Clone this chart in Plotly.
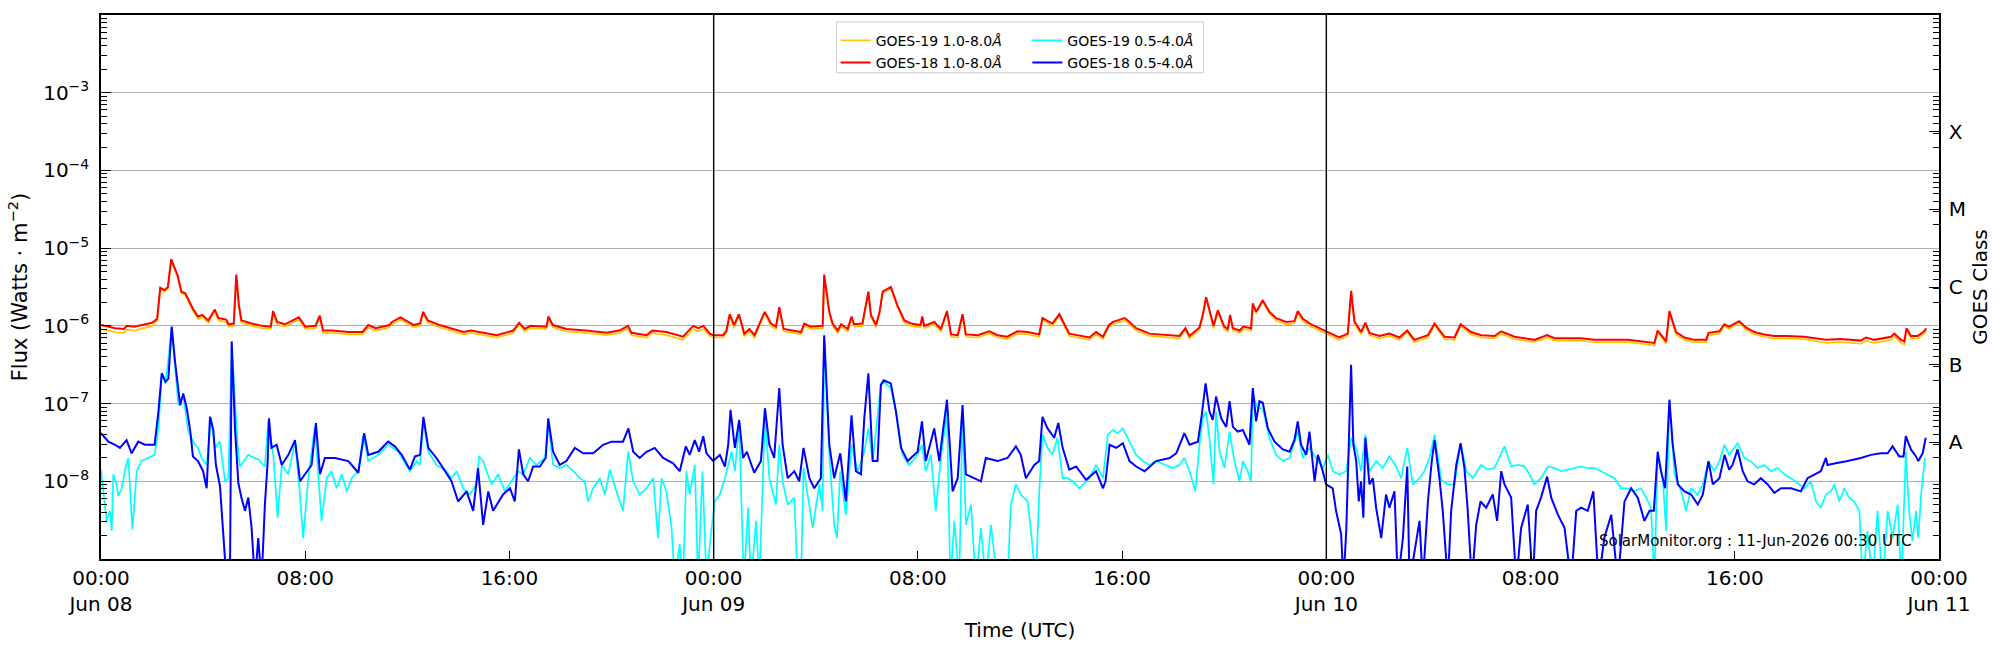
import pandas as pd
import plotly.graph_objects as go

# ---------------- data (hours since 2026-06-08 00:00 UTC, log10 flux in W/m^2) ----------------
t_long = [
    0.0, 0.55, 0.9, 1.0, 1.3, 1.7, 2.0, 2.2, 2.32, 2.5,
    2.62, 2.75, 3.0, 3.15, 3.3, 3.6, 3.8, 3.97, 4.2, 4.46,
    4.6, 4.9, 5.0, 5.2, 5.3, 5.4, 5.5, 5.9, 6.3, 6.65,
    6.74, 6.9, 7.2, 7.75, 8.0, 8.4, 8.57, 8.7, 9.06, 9.7,
    10.24, 10.47, 10.76, 11.3, 11.4, 11.73, 12.25, 12.5, 12.62, 12.8,
    13.27, 13.8, 14.2, 14.5, 14.84, 15.5, 16.15, 16.38, 16.6, 16.82,
    17.45, 17.53, 17.7, 18.23, 19.0, 19.8, 20.3, 20.65, 20.78, 21.37,
    21.6, 22.15, 22.8, 22.93, 23.2, 23.4, 23.6, 23.85, 23.98, 24.37,
    24.5, 24.63, 24.8, 24.99, 25.2, 25.4, 25.6, 26.0, 26.25, 26.44,
    26.57, 26.74, 27.16, 27.42, 27.55, 27.8, 28.27, 28.33, 28.53, 28.66,
    28.86, 28.99, 29.25, 29.4, 29.5, 29.83, 29.9, 30.06, 30.16, 30.36,
    30.5, 30.62, 30.94, 31.2, 31.47, 31.73, 32.1, 32.17, 32.25, 32.64,
    32.9, 33.14, 33.3, 33.56, 33.75, 33.88, 34.34, 34.8, 35.12, 35.5,
    35.9, 36.3, 36.75, 36.88, 37.27, 37.54, 37.93, 38.2, 38.72, 38.98,
    39.25, 39.48, 39.64, 39.83, 40.1, 40.29, 40.55, 41.07, 41.6, 42.25,
    42.48, 42.64, 43.03, 43.16, 43.29, 43.49, 43.58, 43.75, 44.0, 44.14,
    44.23, 44.34, 44.6, 44.75, 45.05, 45.12, 45.25, 45.51, 45.77, 46.03,
    46.43, 46.75, 46.88, 47.08, 47.4, 47.6, 48.0, 48.5, 48.84, 48.97,
    49.1, 49.36, 49.53, 49.69, 50.08, 50.47, 50.86, 51.17, 51.45, 51.98,
    52.24, 52.63, 53.02, 53.15, 53.26, 53.67, 54.06, 54.59, 54.85, 55.37,
    56.15, 56.65, 56.94, 57.98, 58.5, 59.81, 60.85, 60.98, 61.18, 61.31,
    61.44, 61.7, 62.03, 62.42, 62.88, 62.97, 63.4, 63.59, 63.78, 64.17,
    64.44, 64.76, 65.15, 65.55, 66.07, 66.72, 67.57, 68.16, 68.94, 69.14,
    69.46, 70.12, 70.25, 70.51, 70.64, 70.73, 70.9, 71.16, 71.42, 71.5,
]
g18_long = [
    -5.99, -6.03, -6.04, -6.00, -6.01, -5.98, -5.96, -5.91, -5.51, -5.54,
    -5.50, -5.14, -5.35, -5.56, -5.58, -5.78, -5.88, -5.86, -5.93, -5.79,
    -5.90, -5.92, -5.98, -5.97, -5.34, -5.73, -5.93, -5.97, -6.00, -6.01,
    -5.81, -5.95, -5.98, -5.89, -6.01, -6.00, -5.87, -6.06, -6.06, -6.08,
    -6.08, -5.99, -6.03, -5.99, -5.95, -5.89, -5.99, -5.97, -5.82, -5.93,
    -5.99, -6.04, -6.08, -6.06, -6.08, -6.12, -6.06, -5.96, -6.04, -6.00,
    -6.01, -5.88, -5.99, -6.04, -6.06, -6.09, -6.06, -6.00, -6.09, -6.12,
    -6.06, -6.08, -6.14, -6.09, -6.00, -6.03, -6.00, -6.10, -6.12, -6.12,
    -6.06, -5.85, -5.99, -5.85, -6.10, -6.04, -6.12, -5.82, -5.97, -6.01,
    -5.76, -6.04, -6.06, -6.08, -5.97, -6.01, -6.00, -5.34, -5.82, -5.97,
    -6.06, -5.98, -6.04, -5.88, -5.98, -5.97, -5.84, -5.56, -5.86, -5.99,
    -5.82, -5.56, -5.50, -5.74, -5.93, -5.97, -5.99, -5.88, -6.00, -5.95,
    -6.04, -5.81, -6.11, -6.12, -5.85, -6.11, -6.12, -6.07, -6.12, -6.14,
    -6.07, -6.08, -6.11, -5.90, -5.97, -5.85, -6.10, -6.12, -6.15, -6.08,
    -6.14, -5.99, -5.95, -5.93, -5.90, -5.95, -6.03, -6.10, -6.11, -6.13,
    -6.03, -6.13, -6.02, -5.86, -5.63, -5.91, -6.00, -5.80, -6.01, -6.04,
    -5.86, -6.03, -6.06, -6.01, -6.03, -5.71, -5.82, -5.67, -5.82, -5.90,
    -5.95, -5.94, -5.81, -5.91, -5.98, -6.01, -6.07, -6.15, -6.10, -5.55,
    -5.94, -6.08, -5.96, -6.09, -6.13, -6.10, -6.15, -6.06, -6.18, -6.12,
    -5.97, -6.14, -6.15, -6.06, -5.98, -6.08, -6.12, -6.13, -6.07, -6.14,
    -6.18, -6.12, -6.16, -6.16, -6.18, -6.18, -6.22, -6.06, -6.14, -6.20,
    -5.81, -6.08, -6.15, -6.18, -6.18, -6.09, -6.07, -5.98, -6.01, -5.94,
    -6.02, -6.08, -6.11, -6.13, -6.13, -6.14, -6.18, -6.17, -6.19, -6.15,
    -6.18, -6.14, -6.10, -6.18, -6.20, -6.03, -6.13, -6.13, -6.07, -6.03,
]
g19_long = [
    -6.04, -6.08, -6.09, -6.05, -6.06, -6.03, -6.00, -5.94, -5.53, -5.56,
    -5.52, -5.16, -5.37, -5.58, -5.60, -5.81, -5.91, -5.89, -5.96, -5.81,
    -5.93, -5.95, -6.01, -6.00, -5.36, -5.75, -5.96, -6.00, -6.03, -6.04,
    -5.83, -5.98, -6.01, -5.92, -6.04, -6.03, -5.89, -6.09, -6.09, -6.11,
    -6.11, -6.02, -6.06, -6.02, -5.98, -5.92, -6.02, -6.00, -5.84, -5.96,
    -6.02, -6.07, -6.11, -6.09, -6.11, -6.15, -6.09, -5.98, -6.07, -6.03,
    -6.04, -5.90, -6.02, -6.07, -6.09, -6.12, -6.09, -6.03, -6.12, -6.15,
    -6.09, -6.12, -6.18, -6.13, -6.04, -6.07, -6.04, -6.13, -6.15, -6.15,
    -6.09, -5.87, -6.02, -5.87, -6.13, -6.07, -6.15, -5.84, -6.00, -6.04,
    -5.78, -6.07, -6.09, -6.11, -6.00, -6.04, -6.03, -5.36, -5.84, -6.00,
    -6.09, -6.01, -6.07, -5.90, -6.01, -6.00, -5.86, -5.58, -5.88, -6.02,
    -5.84, -5.58, -5.52, -5.76, -5.96, -6.00, -6.02, -5.90, -6.03, -5.98,
    -6.07, -5.83, -6.14, -6.15, -5.87, -6.14, -6.15, -6.10, -6.15, -6.17,
    -6.10, -6.11, -6.14, -5.92, -6.00, -5.87, -6.13, -6.15, -6.18, -6.11,
    -6.17, -6.02, -5.98, -5.96, -5.93, -5.98, -6.06, -6.13, -6.14, -6.16,
    -6.05, -6.16, -6.05, -5.88, -5.65, -5.93, -6.03, -5.82, -6.04, -6.07,
    -5.88, -6.06, -6.09, -6.04, -6.06, -5.73, -5.84, -5.69, -5.84, -5.93,
    -5.98, -5.97, -5.83, -5.94, -6.01, -6.04, -6.10, -6.18, -6.13, -5.57,
    -5.97, -6.11, -5.98, -6.12, -6.16, -6.13, -6.18, -6.08, -6.21, -6.15,
    -5.99, -6.17, -6.18, -6.08, -6.00, -6.11, -6.15, -6.16, -6.10, -6.17,
    -6.21, -6.15, -6.19, -6.19, -6.21, -6.21, -6.25, -6.08, -6.17, -6.23,
    -5.83, -6.11, -6.18, -6.21, -6.21, -6.12, -6.10, -6.00, -6.04, -5.96,
    -6.05, -6.11, -6.14, -6.16, -6.16, -6.17, -6.22, -6.21, -6.23, -6.19,
    -6.22, -6.18, -6.13, -6.22, -6.24, -6.05, -6.16, -6.16, -6.10, -6.06,
]

t_g18_short = [
    0.0, 0.29, 0.55, 0.74, 1.0, 1.2, 1.46, 1.72, 2.1, 2.25,
    2.38, 2.53, 2.64, 2.77, 2.9, 3.1, 3.22, 3.36, 3.5, 3.6,
    3.8, 4.0, 4.14, 4.27, 4.4, 4.5, 4.66, 4.8, 4.92, 5.05,
    5.12, 5.25, 5.38, 5.5, 5.64, 5.77, 5.9, 6.03, 6.16, 6.29,
    6.42, 6.53, 6.58, 6.68, 6.88, 7.08, 7.34, 7.6, 7.8, 7.99,
    8.25, 8.42, 8.58, 8.77, 9.16, 9.69, 10.08, 10.31, 10.47, 10.86,
    11.25, 11.51, 11.78, 12.1, 12.3, 12.5, 12.63, 12.82, 13.14, 13.4,
    13.73, 13.99, 14.32, 14.58, 14.77, 14.97, 15.17, 15.36, 15.75, 16.02,
    16.21, 16.37, 16.54, 16.73, 16.93, 17.19, 17.42, 17.52, 17.71, 17.97,
    18.23, 18.56, 18.89, 19.28, 19.67, 20.0, 20.45, 20.66, 20.85, 21.1,
    21.37, 21.69, 22.02, 22.41, 22.67, 22.91, 23.06, 23.26, 23.43, 23.59,
    23.72, 23.98, 24.24, 24.44, 24.57, 24.66, 24.83, 25.0, 25.15, 25.3,
    25.59, 25.85, 26.01, 26.18, 26.37, 26.57, 26.7, 26.9, 27.16, 27.35,
    27.52, 27.75, 27.94, 28.2, 28.33, 28.53, 28.72, 28.96, 29.18, 29.4,
    29.57, 29.77, 29.9, 30.06, 30.23, 30.42, 30.55, 30.66, 30.94, 31.14,
    31.34, 31.6, 31.99, 32.16, 32.31, 32.64, 32.84, 32.97, 33.14, 33.36,
    33.56, 33.75, 33.88, 34.2, 34.47, 34.66, 35.12, 35.51, 35.84, 36.03,
    36.23, 36.56, 36.75, 36.88, 37.08, 37.34, 37.5, 37.67, 37.93, 38.2,
    38.59, 38.98, 39.25, 39.35, 39.51, 39.77, 40.03, 40.29, 40.55, 40.88,
    41.33, 41.86, 42.12, 42.44, 42.64, 42.97, 43.12, 43.27, 43.42, 43.55,
    43.68, 43.88, 44.08, 44.21, 44.34, 44.53, 44.73, 44.99, 45.12, 45.25,
    45.38, 45.51, 45.71, 45.97, 46.3, 46.56, 46.75, 46.88, 47.01, 47.21,
    47.34, 47.54, 47.67, 47.86, 47.99, 48.25, 48.38, 48.58, 48.67, 48.78,
    48.88, 48.97, 49.06, 49.17, 49.27, 49.36, 49.45, 49.53, 49.69, 49.82,
    49.95, 50.15, 50.34, 50.47, 50.67, 50.8, 51.0, 51.17, 51.26, 51.45,
    51.65, 51.78, 51.98, 52.13, 52.24, 52.43, 52.56, 52.76, 52.89, 53.09,
    53.26, 53.41, 53.54, 53.7, 53.87, 54.04, 54.26, 54.52, 54.69, 54.85,
    54.98, 55.24, 55.44, 55.63, 55.89, 56.09, 56.22, 56.41, 56.65, 56.81,
    57.07, 57.33, 57.59, 57.79, 57.98, 58.24, 58.46, 58.66, 58.89, 59.16,
    59.42, 59.68, 59.94, 60.2, 60.46, 60.66, 60.83, 60.98, 61.11, 61.27,
    61.44, 61.57, 61.77, 62.03, 62.29, 62.55, 62.75, 62.97, 63.14, 63.4,
    63.6, 63.78, 63.91, 64.11, 64.31, 64.5, 64.76, 65.02, 65.29, 65.55,
    65.81, 66.2, 66.59, 66.85, 67.11, 67.37, 67.57, 67.63, 67.9, 68.42,
    68.94, 69.33, 69.72, 69.99, 70.18, 70.44, 70.61, 70.7, 70.9, 71.1,
    71.19, 71.36, 71.48,
]
g18_short = [
    -7.38, -7.49, -7.53, -7.57, -7.47, -7.64, -7.49, -7.53, -7.53, -7.10,
    -6.61, -6.72, -6.68, -6.01, -6.46, -7.02, -6.87, -7.06, -7.36, -7.68,
    -7.74, -7.87, -8.09, -7.17, -7.34, -7.79, -8.06, -8.77, -9.30, -9.30,
    -6.20, -7.32, -8.02, -8.21, -8.38, -8.21, -8.60, -9.30, -8.73, -9.30,
    -8.30, -7.74, -7.19, -7.57, -7.53, -7.79, -7.66, -7.47, -8.00, -7.91,
    -7.79, -7.25, -7.91, -7.70, -7.70, -7.74, -7.89, -7.38, -7.66, -7.62,
    -7.49, -7.55, -7.66, -7.85, -7.68, -7.66, -7.17, -7.57, -7.70, -7.83,
    -8.00, -8.26, -8.13, -8.38, -7.83, -8.56, -8.13, -8.38, -8.17, -8.09,
    -8.26, -7.59, -7.91, -8.00, -7.81, -7.81, -7.70, -7.19, -7.62, -7.79,
    -7.74, -7.57, -7.64, -7.64, -7.53, -7.49, -7.49, -7.32, -7.62, -7.70,
    -7.62, -7.57, -7.70, -7.77, -7.87, -7.55, -7.66, -7.47, -7.62, -7.42,
    -7.64, -7.74, -7.66, -7.81, -7.53, -7.08, -7.57, -7.21, -7.70, -7.62,
    -7.89, -7.74, -7.06, -7.53, -7.70, -6.80, -7.53, -7.96, -7.87, -8.00,
    -7.57, -7.96, -8.09, -7.96, -6.12, -7.53, -7.96, -7.64, -8.26, -7.15,
    -7.87, -7.91, -7.19, -6.61, -7.74, -7.74, -6.76, -6.70, -6.74, -7.10,
    -7.57, -7.74, -7.62, -7.23, -7.74, -7.32, -7.74, -7.38, -6.95, -8.13,
    -7.96, -7.02, -7.91, -7.96, -8.00, -7.70, -7.74, -7.70, -7.55, -7.66,
    -7.96, -7.79, -7.74, -7.17, -7.32, -7.44, -7.25, -7.57, -7.85, -7.81,
    -7.98, -7.87, -8.09, -8.00, -7.53, -7.57, -7.51, -7.74, -7.81, -7.87,
    -7.74, -7.70, -7.64, -7.38, -7.53, -7.49, -7.15, -6.74, -7.10, -7.21,
    -6.91, -7.19, -7.30, -6.97, -7.30, -7.36, -7.34, -7.53, -6.80, -7.23,
    -6.97, -6.99, -7.32, -7.49, -7.59, -7.62, -7.47, -7.23, -7.53, -7.66,
    -7.36, -8.00, -7.66, -7.87, -8.04, -8.09, -8.38, -8.68, -9.30, -8.64,
    -7.66, -6.50, -7.53, -7.74, -8.26, -8.00, -8.47, -7.44, -8.04, -7.96,
    -8.34, -8.73, -8.17, -8.34, -8.13, -9.30, -8.73, -7.81, -9.30, -8.90,
    -8.51, -9.30, -8.26, -7.74, -7.47, -7.96, -8.38, -9.30, -8.38, -7.79,
    -7.51, -7.83, -8.38, -9.30, -8.56, -8.26, -8.34, -8.17, -8.51, -7.87,
    -8.04, -8.21, -9.30, -8.60, -8.30, -9.30, -8.38, -8.21, -7.94, -8.21,
    -8.43, -8.60, -9.30, -8.38, -8.34, -8.38, -8.13, -9.30, -8.73, -8.43,
    -9.30, -8.26, -8.09, -8.21, -8.51, -8.38, -8.38, -7.62, -7.87, -8.09,
    -6.95, -7.53, -8.04, -8.13, -8.17, -8.30, -8.17, -7.74, -8.04, -7.96,
    -7.66, -7.85, -7.79, -7.59, -7.87, -8.00, -8.04, -7.96, -8.04, -8.15,
    -8.09, -8.09, -8.13, -7.96, -7.91, -7.87, -7.70, -7.79, -7.77, -7.74,
    -7.70, -7.66, -7.64, -7.64, -7.55, -7.68, -7.68, -7.42, -7.59, -7.68,
    -7.74, -7.64, -7.44,
]

t_g19_short = [
    0.0, 0.09, 0.22, 0.35, 0.42, 0.48, 0.61, 0.68, 0.81, 0.97,
    1.07, 1.23, 1.4, 1.59, 1.85, 2.1, 2.25, 2.38, 2.53, 2.77,
    3.03, 3.22, 3.42, 3.55, 3.68, 3.8, 3.94, 4.14, 4.31, 4.46,
    4.66, 4.86, 4.99, 5.12, 5.35, 5.44, 5.77, 6.16, 6.42, 6.55,
    6.75, 6.92, 7.08, 7.34, 7.6, 7.76, 7.92, 8.12, 8.38, 8.51,
    8.64, 8.84, 9.03, 9.23, 9.43, 9.63, 9.82, 10.08, 10.27, 10.47,
    10.86, 11.25, 11.65, 12.1, 12.36, 12.49, 12.63, 12.82, 13.14, 13.53,
    13.73, 13.93, 14.19, 14.45, 14.71, 14.81, 14.97, 15.1, 15.3, 15.56,
    15.82, 16.08, 16.34, 16.54, 16.8, 17.06, 17.39, 17.52, 17.71, 17.97,
    18.23, 18.5, 18.76, 18.95, 19.08, 19.28, 19.54, 19.74, 19.93, 20.19,
    20.45, 20.65, 20.85, 21.1, 21.37, 21.63, 21.82, 21.96, 22.15, 22.35,
    22.48, 22.67, 22.8, 22.93, 23.06, 23.26, 23.39, 23.56, 23.72, 23.85,
    24.04, 24.24, 24.44, 24.57, 24.7, 24.83, 25.0, 25.18, 25.35, 25.46,
    25.66, 25.79, 26.01, 26.18, 26.44, 26.57, 26.7, 26.9, 27.16, 27.29,
    27.42, 27.52, 27.75, 27.88, 28.14, 28.27, 28.33, 28.53, 28.72, 28.83,
    28.96, 29.18, 29.4, 29.64, 29.9, 30.06, 30.23, 30.55, 30.66, 30.94,
    31.14, 31.4, 31.66, 31.99, 32.16, 32.31, 32.51, 32.7, 32.9, 33.14,
    33.27, 33.43, 33.62, 33.75, 33.88, 34.08, 34.27, 34.47, 34.66, 34.86,
    35.12, 35.51, 35.64, 35.84, 36.03, 36.3, 36.43, 36.62, 36.75, 36.88,
    37.08, 37.27, 37.47, 37.67, 37.86, 38.07, 38.33, 38.72, 38.98, 39.25,
    39.44, 39.64, 39.83, 40.03, 40.29, 40.55, 40.81, 41.07, 41.33, 41.73,
    41.99, 42.25, 42.44, 42.64, 42.87, 43.03, 43.16, 43.29, 43.42, 43.58,
    43.68, 43.82, 44.01, 44.21, 44.4, 44.6, 44.73, 44.92, 45.05, 45.12,
    45.32, 45.51, 45.77, 46.03, 46.3, 46.56, 46.88, 47.08, 47.34, 47.6,
    47.86, 48.06, 48.25, 48.51, 48.78, 48.97, 49.17, 49.36, 49.53, 49.69,
    49.95, 50.21, 50.47, 50.73, 50.93, 51.17, 51.39, 51.65, 51.84, 52.04,
    52.24, 52.5, 52.76, 53.02, 53.26, 53.48, 53.74, 54.06, 54.33, 54.59,
    54.78, 54.98, 55.24, 55.5, 55.76, 55.96, 56.15, 56.41, 56.68, 56.94,
    57.2, 57.46, 57.72, 57.98, 58.24, 58.5, 58.76, 59.02, 59.29, 59.55,
    59.81, 60.07, 60.33, 60.53, 60.72, 60.85, 60.98, 61.18, 61.31, 61.44,
    61.64, 61.9, 62.09, 62.29, 62.55, 62.75, 62.97, 63.2, 63.4, 63.59,
    63.78, 64.11, 64.37, 64.63, 64.89, 65.15, 65.42, 65.68, 65.94, 66.2,
    66.46, 66.72, 66.98, 67.18, 67.37, 67.57, 67.77, 67.9, 68.09, 68.29,
    68.48, 68.68, 68.88, 69.01, 69.2, 69.4, 69.59, 69.79, 69.99, 70.18,
    70.38, 70.53, 70.7, 70.83, 70.96, 71.1, 71.19, 71.3, 71.45,
]
g19_short = [
    -7.85, -8.09, -8.51, -8.38, -8.64, -7.91, -8.04, -8.19, -8.09, -7.81,
    -7.70, -8.62, -7.87, -7.74, -7.70, -7.66, -7.32, -6.63, -6.74, -6.03,
    -7.02, -6.89, -7.36, -7.44, -7.53, -7.57, -7.70, -7.79, -7.19, -7.57,
    -7.49, -8.00, -7.96, -6.25, -7.53, -7.81, -7.66, -7.72, -7.81, -7.23,
    -7.66, -8.47, -7.79, -7.91, -7.49, -8.04, -8.73, -7.96, -7.29, -7.91,
    -8.51, -7.96, -7.87, -8.09, -7.91, -8.13, -7.96, -7.87, -7.40, -7.74,
    -7.66, -7.53, -7.62, -7.87, -7.74, -7.79, -7.23, -7.62, -7.79, -7.87,
    -7.96, -7.87, -8.09, -8.17, -8.04, -7.68, -7.74, -7.87, -8.04, -7.91,
    -8.13, -8.00, -7.87, -7.91, -7.70, -7.79, -7.70, -7.27, -7.79, -7.83,
    -7.79, -7.87, -7.96, -8.00, -8.26, -8.09, -7.96, -8.17, -7.85, -8.13,
    -8.38, -7.62, -8.00, -8.17, -8.09, -7.96, -8.73, -7.96, -8.13, -8.60,
    -9.30, -8.81, -9.30, -7.87, -8.17, -7.79, -9.30, -7.87, -9.30, -8.81,
    -8.26, -8.17, -7.96, -7.79, -7.62, -7.87, -7.27, -9.30, -8.34, -9.30,
    -8.51, -9.30, -7.15, -7.96, -8.30, -7.53, -8.00, -8.30, -8.21, -9.30,
    -9.30, -7.83, -8.30, -8.60, -8.04, -8.38, -6.16, -7.66, -8.56, -8.73,
    -7.87, -8.43, -7.53, -7.87, -7.62, -7.32, -7.74, -6.76, -6.72, -6.80,
    -7.10, -7.66, -7.79, -7.66, -7.53, -7.87, -7.66, -8.38, -7.70, -7.10,
    -9.30, -8.51, -9.30, -7.10, -8.56, -8.30, -9.30, -8.60, -9.30, -8.56,
    -9.30, -9.30, -8.30, -8.04, -8.17, -8.26, -8.64, -9.30, -8.17, -7.40,
    -7.57, -7.66, -7.44, -7.96, -7.96, -8.00, -8.09, -7.96, -7.79, -7.96,
    -7.40, -7.34, -7.38, -7.32, -7.49, -7.66, -7.74, -7.79, -7.74, -7.79,
    -7.83, -7.79, -7.70, -7.87, -8.13, -7.53, -7.19, -7.10, -7.44, -8.04,
    -7.10, -7.62, -7.83, -7.36, -7.74, -8.00, -7.74, -7.87, -8.00, -6.89,
    -7.06, -7.06, -7.44, -7.66, -7.74, -7.70, -7.36, -7.70, -7.57, -7.70,
    -7.83, -7.66, -7.87, -7.91, -7.87, -7.44, -7.57, -7.87, -7.40, -7.87,
    -7.74, -7.83, -7.68, -7.81, -7.96, -7.57, -8.04, -7.96, -7.87, -7.70,
    -7.40, -7.98, -8.04, -8.04, -7.51, -7.87, -7.96, -7.79, -7.85, -7.83,
    -7.70, -7.55, -7.81, -7.79, -7.81, -7.91, -8.04, -7.96, -7.81, -7.83,
    -7.87, -7.85, -7.83, -7.81, -7.83, -7.83, -7.87, -7.91, -7.96, -8.09,
    -8.09, -8.13, -8.09, -8.21, -8.34, -9.30, -7.66, -7.96, -8.64, -6.97,
    -7.91, -8.13, -8.38, -8.09, -8.17, -8.04, -7.74, -7.87, -7.74, -7.53,
    -7.66, -7.51, -7.70, -7.74, -7.83, -7.79, -7.87, -7.83, -7.91, -7.96,
    -8.02, -8.09, -8.00, -8.26, -8.34, -8.17, -8.13, -8.04, -8.26, -8.09,
    -8.21, -8.26, -8.38, -9.30, -8.64, -9.30, -8.38, -9.30, -8.38, -8.73,
    -8.30, -9.30, -7.62, -8.38, -8.77, -8.38, -8.73, -8.17, -7.70,
]

series_names = ["GOES-19 1.0-8.0<i>Å</i>", "GOES-18 1.0-8.0<i>Å</i>",
                "GOES-19 0.5-4.0<i>Å</i>", "GOES-18 0.5-4.0<i>Å</i>"]
series_colors = ["#FFC800", "#FF0000", "#00FFFF", "#0000FF"]

x_tick_hours = [0, 8, 16, 24, 32, 40, 48, 56, 64, 72]
x_tick_text = ["00:00<br>Jun 08", "08:00", "16:00", "00:00<br>Jun 09", "08:00", "16:00",
               "00:00<br>Jun 10", "08:00", "16:00", "00:00<br>Jun 11"]
y_tick_exp = [-8, -7, -6, -5, -4, -3]
class_exp = [-7.5, -6.5, -5.5, -4.5, -3.5]
class_labels = ["A", "B", "C", "M", "X"]
day_lines = ["2026-06-09 00:00", "2026-06-10 00:00"]

start = pd.Timestamp("2026-06-08 00:00")


def to_time(hours):
    return [start + pd.Timedelta(hours=h) for h in hours]


def to_flux(logs):
    return [10.0 ** v for v in logs]


assert len(t_long) == len(g18_long) == len(g19_long)
assert len(t_g18_short) == len(g18_short)
assert len(t_g19_short) == len(g19_short)

FONT = "DejaVu Sans"
fig = go.Figure()

fig.add_trace(go.Scatter(x=to_time(t_long), y=to_flux(g19_long), mode="lines",
                         name=series_names[0], line=dict(color=series_colors[0], width=1.7),
                         legend="legend", legendgroup="a"))
fig.add_trace(go.Scatter(x=to_time(t_long), y=to_flux(g18_long), mode="lines",
                         name=series_names[1], line=dict(color=series_colors[1], width=2.0),
                         legend="legend", legendgroup="b"))
fig.add_trace(go.Scatter(x=to_time(t_g19_short), y=to_flux(g19_short), mode="lines",
                         name=series_names[2], line=dict(color=series_colors[2], width=1.7),
                         legend="legend2", legendgroup="c"))
fig.add_trace(go.Scatter(x=to_time(t_g18_short), y=to_flux(g18_short), mode="lines",
                         name=series_names[3], line=dict(color=series_colors[3], width=2.0),
                         legend="legend2", legendgroup="d", yaxis="y2"))

minor_vals = [k * 10.0 ** e for e in range(-9, -2) for k in range(2, 10)]

fig.update_layout(
    width=2000, height=650,
    margin=dict(l=101, r=60, t=15, b=89),
    paper_bgcolor="white", plot_bgcolor="white",
    font=dict(family=FONT, size=20, color="black"),
    xaxis=dict(
        type="date",
        range=[start, start + pd.Timedelta(hours=72)],
        tickmode="array",
        tickvals=to_time(x_tick_hours),
        ticktext=x_tick_text,
        ticks="inside", ticklen=8, tickwidth=1, tickcolor="black",
        showgrid=False, zeroline=False,
        showline=True, linecolor="black", linewidth=1.5, mirror=True,
        title=dict(text="Time (UTC)", font=dict(size=20), standoff=8),
        tickfont=dict(size=20),
    ),
    yaxis=dict(
        type="log", range=[-9, -2],
        tickmode="array",
        tickvals=[10.0 ** e for e in y_tick_exp],
        ticktext=[f"10<sup>\u2212{abs(e)}</sup>" for e in y_tick_exp],
        ticks="inside", ticklen=10, tickwidth=1, tickcolor="black",
        minor=dict(tickmode="array", tickvals=minor_vals, ticks="inside", ticklen=6,
                   tickcolor="black", tickwidth=1, showgrid=False),
        showgrid=True, gridcolor="#b0b0b0", gridwidth=1,
        zeroline=False,
        showline=True, linecolor="black", linewidth=1.5, mirror=False,
        title=dict(text="Flux (Watts \u00b7 m<sup>\u22122</sup>)", font=dict(size=21), standoff=10),
        tickfont=dict(size=20),
        ticklabelstandoff=6,
    ),
    yaxis2=dict(
        type="log", range=[-9, -2], overlaying="y", side="right",
        tickmode="array",
        tickvals=[10.0 ** e for e in class_exp],
        ticktext=class_labels,
        ticks="inside", ticklen=10, tickwidth=1, tickcolor="black",
        minor=dict(tickmode="array", tickvals=minor_vals, ticks="inside", ticklen=6,
                   tickcolor="black", tickwidth=1, showgrid=False),
        showgrid=False, zeroline=False,
        showline=True, linecolor="black", linewidth=1.5,
        title=dict(text="GOES Class", font=dict(size=20), standoff=8),
        tickfont=dict(size=20),
        ticklabelstandoff=4,
    ),
    legend=dict(x=0.3997, y=0.982, xanchor="left", yanchor="top",
                bgcolor="rgba(0,0,0,0)", borderwidth=0, tracegroupgap=1,
                font=dict(size=14, family=FONT), itemwidth=30),
    legend2=dict(x=0.504, y=0.982, xanchor="left", yanchor="top",
                 bgcolor="rgba(0,0,0,0)", borderwidth=0, tracegroupgap=1,
                 font=dict(size=14, family=FONT), itemwidth=30),
    showlegend=True,
)

# legend frame
fig.add_shape(type="rect", xref="paper", yref="paper", x0=0.4002, x1=0.5998, y0=0.8938, y1=0.9872,
              line=dict(color="#cccccc", width=1), fillcolor="rgba(255,255,255,0.8)", layer="above")

# day boundary lines
for d in day_lines:
    fig.add_shape(type="line", xref="x", yref="paper", x0=d, x1=d, y0=0, y1=1,
                  line=dict(color="black", width=1.4), layer="above")

fig.add_annotation(text="SolarMonitor.org : 11-Jun-2026 00:30 UTC", xref="paper", yref="paper",
                   x=0.9864, y=0.033, xanchor="right", yanchor="middle", showarrow=False,
                   font=dict(size=15, family=FONT, color="black"))

fig.write_html("out.html")
